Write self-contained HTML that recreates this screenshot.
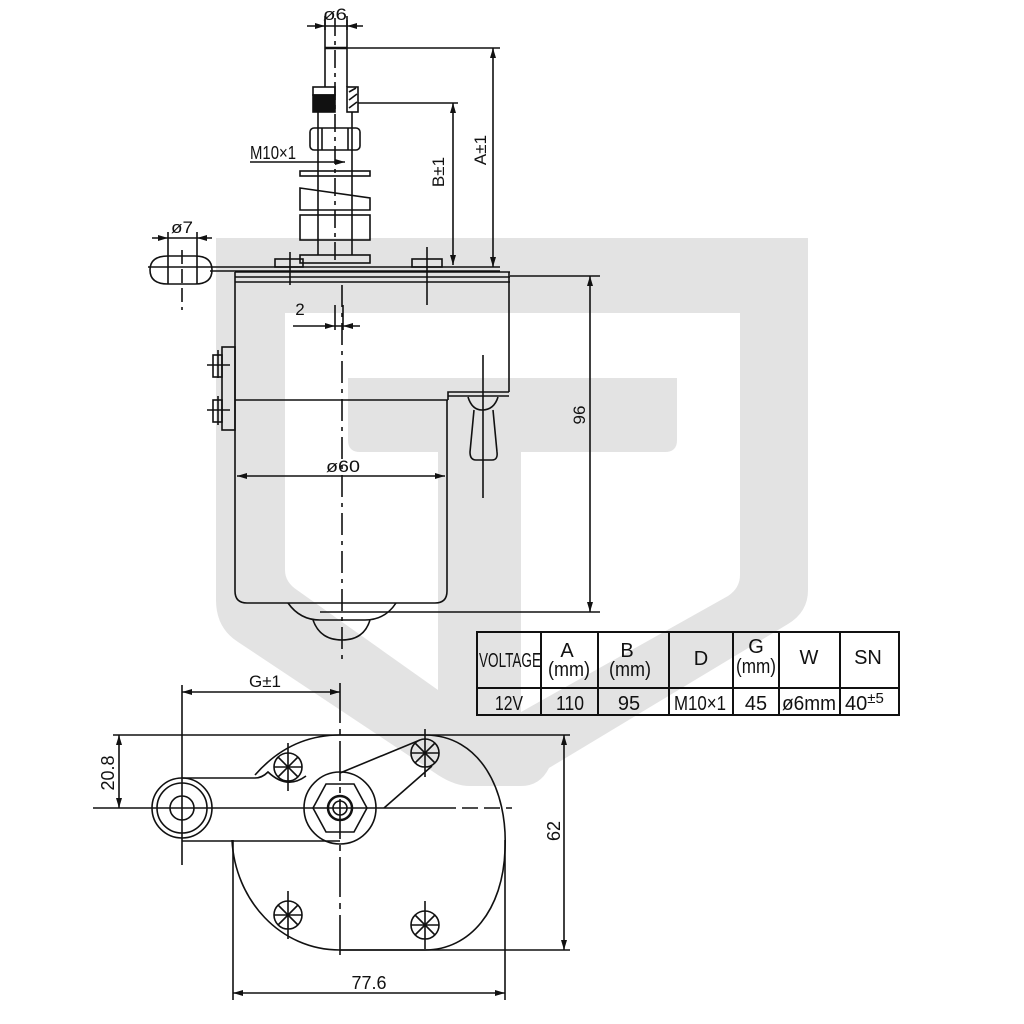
<!DOCTYPE html>
<html><head><meta charset="utf-8"><style>
html,body{margin:0;padding:0;background:#fff}
svg{display:block}
text{font-family:"Liberation Sans Narrow","Liberation Sans",sans-serif;fill:#111}
</style></head><body>
<svg width="1024" height="1024" viewBox="0 0 1024 1024" xmlns="http://www.w3.org/2000/svg">
<defs>
<g id="b" stroke="#111" stroke-width="1.6" fill="none"><circle cx="0" cy="0" r="14"/><line x1="-10" y1="-10" x2="10" y2="10"/><line x1="-10" y1="10" x2="10" y2="-10"/><line x1="-14" y1="0" x2="14" y2="0"/><line x1="0" y1="-24" x2="0" y2="24"/></g>
</defs>
<!-- watermark -->
<path fill="#e3e3e3" d="M216,238 H808 V590 Q808,612 788,624 L549,768 Q540,786 521,786 L470,786 Q455,786 438,775 L238,642 Q216,628 216,600 Z"/>
<path fill="#fff" d="M285,313 H740 V575 Q740,588 728,596 L521,712 V452 H438 V690 L297,590 Q285,582 285,570 Z"/>
<path fill="#e3e3e3" d="M348,378 H677 V440 Q677,452 665,452 H360 Q348,452 348,440 Z"/>
<rect x="438" y="440" width="83" height="260" fill="#e3e3e3"/>

<g stroke="#111" stroke-width="1.6" fill="none">
<line x1="325" y1="20" x2="325" y2="87"/><line x1="347" y1="20" x2="347" y2="87"/>
<line x1="325" y1="48" x2="347" y2="48" stroke-width="2.5"/>
<line x1="347" y1="48" x2="500" y2="48"/>
<line x1="307" y1="26" x2="363" y2="26"/>
<line x1="325" y1="16" x2="325" y2="30"/><line x1="347" y1="16" x2="347" y2="30"/>
<rect x="313" y="87" width="22" height="8"/>
<rect x="313" y="95" width="22" height="17" fill="#111"/>
<rect x="347" y="87" width="11" height="25"/>
<line x1="349" y1="92" x2="356" y2="88"/><line x1="349" y1="100" x2="357" y2="94"/><line x1="349" y1="108" x2="357" y2="102"/>
<line x1="358" y1="103" x2="458" y2="103"/>
<line x1="318" y1="112" x2="318" y2="255"/><line x1="352" y1="112" x2="352" y2="255"/>
<rect x="310" y="128" width="50" height="22" rx="4"/>
<line x1="322" y1="128" x2="322" y2="150"/><line x1="348" y1="128" x2="348" y2="150"/>
<line x1="250" y1="162" x2="345" y2="162"/>
<rect x="300" y="171" width="70" height="5"/>
<path d="M300,188 L370,198 V210 H300 Z"/>
<rect x="300" y="215" width="70" height="25"/>
<rect x="300" y="255" width="70" height="8"/>
<line x1="148" y1="267" x2="500" y2="267"/>
<line x1="210" y1="271" x2="500" y2="271"/>
<rect x="275" y="259" width="28" height="8"/><rect x="412" y="259" width="30" height="8"/>
<line x1="290" y1="252" x2="290" y2="285"/><line x1="427" y1="247" x2="427" y2="305"/>
<line x1="235" y1="272" x2="510" y2="272"/><line x1="235" y1="277" x2="510" y2="277"/><line x1="235" y1="282" x2="510" y2="282"/>
<path d="M168,256 H195 Q212,256 212,270 Q212,284 195,284 H168 Q150,284 150,270 Q150,256 168,256 Z"/>
<line x1="168" y1="256" x2="168" y2="284"/><line x1="197" y1="256" x2="197" y2="284"/>
<line x1="152" y1="238" x2="212" y2="238"/>
<line x1="168" y1="232" x2="168" y2="256"/><line x1="197" y1="232" x2="197" y2="256"/>
<line x1="182" y1="250" x2="182" y2="310" stroke-dasharray="14,5"/>
<line x1="235" y1="272" x2="235" y2="400"/>
<line x1="509" y1="272" x2="509" y2="392"/>
<path d="M448,400 V392 H509"/><line x1="448" y1="396" x2="509" y2="396"/>
<line x1="235" y1="400" x2="448" y2="400"/>
<path d="M235,400 V591 Q235,603 247,603 H435 Q447,603 447,591 V400"/>
<path d="M288,603 Q300,620 320,620 H365 Q385,620 396,603"/>
<path d="M313,620 Q320,640 342,640 Q364,640 370,620"/>
<path d="M468,397 Q472,410 482,410 Q494,410 498,397"/>
<path d="M474,410 L470,452 Q470,460 476,460 H492 Q498,460 497,452 L493,410"/>
<line x1="483" y1="355" x2="483" y2="498"/>
<rect x="222" y="347" width="13" height="83"/>
<rect x="213" y="355" width="9" height="22"/><rect x="213" y="400" width="9" height="22"/>
<line x1="207" y1="365" x2="230" y2="365"/><line x1="207" y1="410" x2="230" y2="410"/>
<line x1="218" y1="350" x2="218" y2="378"/><line x1="218" y1="396" x2="218" y2="425"/>
<line x1="342" y1="285" x2="342" y2="660" stroke-dasharray="22,6,4,6"/>
<line x1="335" y1="18" x2="335" y2="265" stroke-dasharray="18,5,4,5"/>
<line x1="237" y1="476" x2="445" y2="476"/>
<line x1="293" y1="326" x2="360" y2="326"/>
<line x1="335" y1="305" x2="335" y2="330"/><line x1="343" y1="305" x2="343" y2="330"/>
<line x1="510" y1="276" x2="600" y2="276"/>
<line x1="320" y1="612" x2="600" y2="612"/>
<line x1="590" y1="276" x2="590" y2="612"/>
<line x1="453" y1="103" x2="453" y2="265"/>
<line x1="493" y1="48" x2="493" y2="267"/>
</g>
<g fill="#111">
<path d="M590,276 l-3,10 h6z"/><path d="M590,612 l-3,-10 h6z"/>
<path d="M453,103 l-3,10 h6z"/><path d="M453,265 l-3,-10 h6z"/>
<path d="M493,48 l-3,10 h6z"/><path d="M493,267 l-3,-10 h6z"/>
<path d="M237,476 l10,-3 v6z"/><path d="M445,476 l-10,-3 v6z"/>
<path d="M325,26 l-10,-3 v6z"/><path d="M347,26 l10,-3 v6z"/>
<path d="M168,238 l-10,-3 v6z"/><path d="M197,238 l10,-3 v6z"/>
<path d="M335,326 l-10,-3 v6z"/><path d="M343,326 l10,-3 v6z"/>
<path d="M345,162 l-10,-3 v6z"/>
</g>
<text x="323" y="20" font-size="17" textLength="24" lengthAdjust="spacingAndGlyphs">ø6</text>
<text x="250" y="159" font-size="18" textLength="46" lengthAdjust="spacingAndGlyphs">M10×1</text>
<text x="171" y="233" font-size="17" textLength="22" lengthAdjust="spacingAndGlyphs">ø7</text>
<text x="300" y="315" font-size="17" text-anchor="middle">2</text>
<text x="326" y="472" font-size="17" textLength="34" lengthAdjust="spacingAndGlyphs">ø60</text>
<text transform="translate(585,415) rotate(-90)" font-size="17" text-anchor="middle">96</text>
<text transform="translate(444,172) rotate(-90)" font-size="17" text-anchor="middle">B±1</text>
<text transform="translate(486,150) rotate(-90)" font-size="17" text-anchor="middle">A±1</text>

<g stroke="#111" stroke-width="2" fill="none">
<rect x="477" y="632" width="422" height="83"/>
<line x1="477" y1="688" x2="899" y2="688"/>
<line x1="541" y1="632" x2="541" y2="715"/><line x1="598" y1="632" x2="598" y2="715"/>
<line x1="669" y1="632" x2="669" y2="715"/><line x1="733" y1="632" x2="733" y2="715"/>
<line x1="779" y1="632" x2="779" y2="715"/><line x1="840" y1="632" x2="840" y2="715"/>
</g>
<g font-size="20" text-anchor="middle">
<text x="510" y="667" textLength="62" lengthAdjust="spacingAndGlyphs">VOLTAGE</text>
<text x="567" y="657">A</text><text x="569" y="676" textLength="42" lengthAdjust="spacingAndGlyphs">(mm)</text>
<text x="627" y="657">B</text><text x="630" y="676" textLength="42" lengthAdjust="spacingAndGlyphs">(mm)</text>
<text x="701" y="665">D</text>
<text x="756" y="653">G</text><text x="756" y="673" textLength="40" lengthAdjust="spacingAndGlyphs">(mm)</text>
<text x="809" y="664">W</text>
<text x="868" y="664">SN</text>
<text x="509" y="710" textLength="28" lengthAdjust="spacingAndGlyphs">12V</text>
<text x="570" y="710" textLength="28" lengthAdjust="spacingAndGlyphs">110</text>
<text x="629" y="710">95</text>
<text x="700" y="710" textLength="52" lengthAdjust="spacingAndGlyphs">M10×1</text>
<text x="756" y="710">45</text>
<text x="809" y="710" textLength="54" lengthAdjust="spacingAndGlyphs">ø6mm</text>
<text x="845" y="710" text-anchor="start">40<tspan font-size="15" dy="-7">±5</tspan></text>
</g>

<g stroke="#111" stroke-width="1.6" fill="none">
<path d="M255,775 Q290,735 340,735 L425,735 C480,735 508,790 505,850 C503,910 470,950 425,950 L340,950 C280,950 235,900 232,840"/>
<line x1="113" y1="735" x2="570" y2="735"/>
<line x1="340" y1="950" x2="570" y2="950"/>
<line x1="564" y1="735" x2="564" y2="950"/>
<line x1="119" y1="735" x2="119" y2="808"/>
<line x1="93" y1="808" x2="440" y2="808"/>
<line x1="440" y1="808" x2="512" y2="808" stroke-dasharray="16,6"/>
<line x1="182" y1="692" x2="340" y2="692"/>
<line x1="182" y1="685" x2="182" y2="865"/>
<line x1="340" y1="683" x2="340" y2="960" stroke-dasharray="40,6,6,6"/>
<line x1="233" y1="840" x2="233" y2="1000"/><line x1="505" y1="840" x2="505" y2="1000"/>
<line x1="233" y1="993" x2="505" y2="993"/>
<circle cx="182" cy="808" r="30"/><circle cx="182" cy="808" r="25"/><circle cx="182" cy="808" r="12"/>
<path d="M182,778 H255 Q262,778 268,772 Q287,790 306,776"/>
<line x1="182" y1="841" x2="340" y2="841"/>
<circle cx="340" cy="808" r="36"/>
<polygon points="313,808 326,784 354,784 367,808 354,832 326,832"/>
<circle cx="340" cy="808" r="12" stroke-width="2.5"/><circle cx="340" cy="808" r="7"/>
<line x1="340" y1="773" x2="420" y2="740"/>
<line x1="384" y1="808" x2="432" y2="766"/>
</g>
<use href="#b" x="288" y="767"/>
<use href="#b" x="425" y="753"/>
<use href="#b" x="288" y="915"/>
<use href="#b" x="425" y="925"/>
<g fill="#111">
<path d="M182,692 l10,-3 v6z"/><path d="M340,692 l-10,-3 v6z"/>
<path d="M119,735 l-3,10 h6z"/><path d="M119,808 l-3,-10 h6z"/>
<path d="M564,735 l-3,10 h6z"/><path d="M564,950 l-3,-10 h6z"/>
<path d="M233,993 l10,-3 v6z"/><path d="M505,993 l-10,-3 v6z"/>
</g>
<text x="265" y="687" font-size="17" text-anchor="middle">G±1</text>
<text x="369" y="989" font-size="18" text-anchor="middle">77.6</text>
<text transform="translate(114,773) rotate(-90)" font-size="18" text-anchor="middle">20.8</text>
<text transform="translate(560,831) rotate(-90)" font-size="18" text-anchor="middle">62</text>
</svg>
</body></html>
